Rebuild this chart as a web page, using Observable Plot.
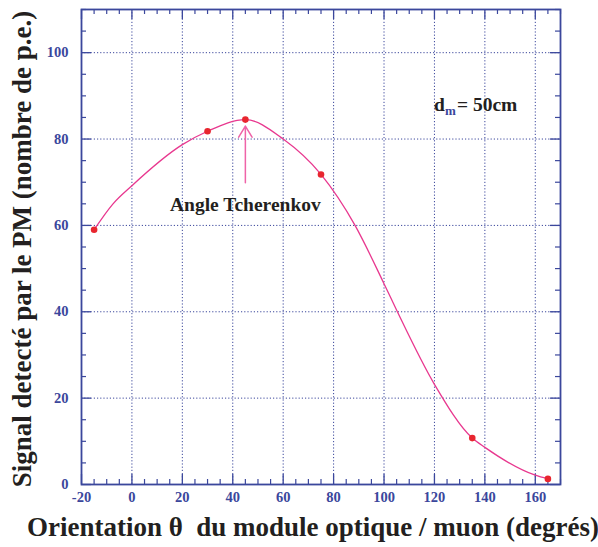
<!DOCTYPE html>
<html>
<head>
<meta charset="utf-8">
<script src="https://cdn.jsdelivr.net/npm/d3@7"></script>
<script src="https://cdn.jsdelivr.net/npm/@observablehq/plot@0.6"></script>
<style>
  html, body { margin: 0; padding: 0; background: #ffffff; }
</style>
</head>
<body>
<div id="chart"></div>
<script>
// Measured points
const measX = [-15, 30, 45, 75, 135, 165];
const measY = [59, 81.8, 84.5, 71.8, 10.75, 1.3];

// Fitted curve
const curveX = [-15, -7.5, 0, 20, 30, 45, 60, 75, 88.5, 100, 105.3, 120, 135, 140, 160, 165];
const curveY = [59, 65.0, 69.2, 78.7, 81.8, 84.5, 80, 71.8, 60, 46.5, 40, 23.2, 10.75, 8.6, 2.15, 1.3];

// Axis ticks
const xMajor = [-20, 0, 20, 40, 60, 80, 100, 120, 140, 160];
const yMajor = [0, 20, 40, 60, 80, 100];
const xMinor = d3.range(-20, 171, 5).filter(v => v % 20 !== 0);
const yMinor = d3.range(0, 111, 5).filter(v => v % 20 !== 0);

// Texts
const xTitle = ["Orientation \u03B8  du module optique / muon (degrés)"];
const yTitle = ["Signal detecté par le PM (nombre de p.e.)"];
const annotX = [45];
const annotY = [64.7];
const annotText = ["Angle Tcherenkov"];
const arrowFrom = [{x: 45, y: 69.9}];
const arrowTo = [{x: 45, y: 83.0}];
const dmX = [119.8];
const dmY = [88];

const W = 598, H = 547;
const mL = 81, mR = 38, mT = 9, mB = 63;
const fw = W - mL - mR, fh = H - mT - mB;

const blue = "#3b479c";
const ink = "#231f20";
const curveCol = "#e8388f";
const dotCol = "#e8262f";
const arrowCol = "#ef63a8";
const font = "'Liberation Serif', 'Times New Roman', serif";

const curve = curveX.map((x, i) => ({x, y: curveY[i]}));
const meas = measX.map((x, i) => ({x, y: measY[i]}));
const arrow = arrowFrom.map((a, i) => ({x1: a.x, y1: a.y, x2: arrowTo[i].x, y2: arrowTo[i].y}));

const chart = Plot.plot({
  width: W, height: H,
  marginLeft: mL, marginRight: mR, marginTop: mT, marginBottom: mB,
  x: {domain: [-20, 170], axis: null},
  y: {domain: [0, 110], axis: null},
  style: {fontFamily: font, background: "#ffffff", overflow: "visible"},
  marks: [
    // grid
    Plot.ruleX(xMajor.slice(1), {x: d => d, stroke: blue, strokeWidth: 1, strokeDasharray: "1.2,2"}),
    Plot.ruleY(yMajor.slice(1), {y: d => d, stroke: blue, strokeWidth: 1, strokeDasharray: "1.2,2"}),
    // ticks bottom/top
    Plot.tickX(xMajor, {x: d => d, insetTop: fh - 10, stroke: blue, strokeWidth: 1.3}),
    Plot.tickX(xMinor, {x: d => d, insetTop: fh - 5, stroke: blue, strokeWidth: 1.2}),
    Plot.tickX(xMajor, {x: d => d, insetBottom: fh - 10, stroke: blue, strokeWidth: 1.3}),
    Plot.tickX(xMinor, {x: d => d, insetBottom: fh - 5, stroke: blue, strokeWidth: 1.2}),
    // ticks left/right
    Plot.tickY(yMajor, {y: d => d, insetRight: fw - 10, stroke: blue, strokeWidth: 1.3}),
    Plot.tickY(yMinor, {y: d => d, insetRight: fw - 5, stroke: blue, strokeWidth: 1.2}),
    Plot.tickY(yMajor, {y: d => d, insetLeft: fw - 10, stroke: blue, strokeWidth: 1.3}),
    Plot.tickY(yMinor, {y: d => d, insetLeft: fw - 5, stroke: blue, strokeWidth: 1.2}),
    Plot.frame({stroke: blue, strokeWidth: 1.8}),
    // tick labels
    Plot.text(xMajor, {x: d => d, frameAnchor: "bottom", dy: 13, lineAnchor: "middle", text: d => String(d),
      fill: blue, fontSize: 14.5, fontWeight: "bold"}),
    Plot.text(yMajor, {y: d => d, frameAnchor: "left", dx: -13, textAnchor: "end", lineAnchor: "middle", text: d => String(d),
      fill: blue, fontSize: 14.5, fontWeight: "bold"}),
    // axis titles
    Plot.text(xTitle, {frameAnchor: "bottom", dy: 43, dx: -8, textAnchor: "middle", lineAnchor: "middle", text: d => d,
      fill: ink, fontSize: 27, fontWeight: "bold"}),
    Plot.text(yTitle, {frameAnchor: "left", dx: -59, dy: 2, rotate: -90, textAnchor: "middle", lineAnchor: "middle", text: d => d,
      fill: ink, fontSize: 27, fontWeight: "bold"}),
    // curve and points
    Plot.line(curve, {x: "x", y: "y", curve: "monotone-x", stroke: curveCol, strokeWidth: 1.3}),
    Plot.dot(meas, {x: "x", y: "y", r: 3.3, fill: dotCol, stroke: "none"}),
    // annotation arrow & text
    Plot.arrow(arrow, {x1: "x1", y1: "y1", x2: "x2", y2: "y2", stroke: arrowCol, strokeWidth: 1.5,
      headLength: 13, headAngle: 62}),
    Plot.text(annotText, {x: annotX, y: annotY, text: d => d, fill: ink, fontSize: 19.5, fontWeight: "bold"}),
    // d_m = 50cm
    Plot.text(["d"], {x: dmX, y: dmY, text: d => d, textAnchor: "start", fill: ink, fontSize: 19.5, fontWeight: "bold"}),
    Plot.text(["m"], {x: dmX, y: dmY, dx: 11, dy: 6, text: d => d, textAnchor: "start", fill: blue, fontSize: 13, fontWeight: "bold"}),
    Plot.text(["= 50cm"], {x: dmX, y: dmY, dx: 23, text: d => d, textAnchor: "start", fill: ink, fontSize: 19.5, fontWeight: "bold"})
  ]
});
document.getElementById("chart").appendChild(chart);
</script>
</body>
</html>
